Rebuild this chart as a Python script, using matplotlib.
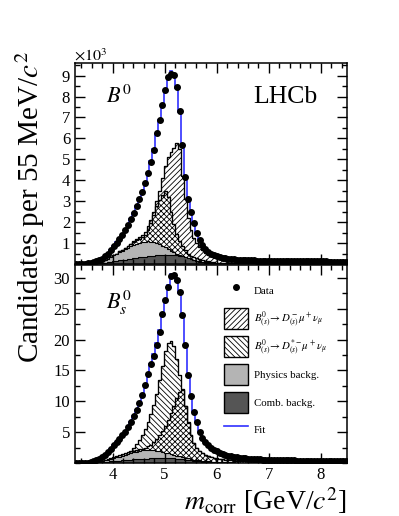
import numpy as np
import matplotlib
matplotlib.use("Agg")
from matplotlib import pyplot as plt
from matplotlib.patches import Patch
from matplotlib.lines import Line2D
from matplotlib.ticker import MultipleLocator

plt.rcParams['font.family'] = 'serif'
plt.rcParams['font.serif'] = ['Liberation Serif', 'DejaVu Serif']
plt.rcParams['mathtext.fontset'] = 'stix'
plt.rcParams['hatch.linewidth'] = 0.6

# 55 MeV bins, 3.28 - 8.505 GeV
lo, width, nbins = 3.28, 0.055, 95
edges = lo + width * np.arange(nbins + 1)
centers = edges[:-1] + width / 2

# ---- B0 panel (x10^3) ----
top_data = [0.0, 0.0, 0.01, 0.02, 0.03, 0.05, 0.08, 0.12, 0.18, 0.26,
            0.37, 0.5, 0.66, 0.85, 1.02, 1.2, 1.4, 1.62, 1.86, 2.15,
            2.45, 2.75, 3.1, 3.45, 3.85, 4.35, 4.85, 5.45, 6.25, 6.9,
            7.6, 8.3, 8.95, 9.08, 9.02, 8.45, 7.3, 5.7, 4.15, 3.1,
            2.5, 1.95, 1.5, 1.15, 0.9, 0.72, 0.58, 0.48, 0.41, 0.36,
            0.32, 0.29, 0.27, 0.25, 0.23, 0.22, 0.21, 0.2, 0.19, 0.18,
            0.18, 0.17, 0.17, 0.16, 0.16, 0.16, 0.15, 0.15, 0.15, 0.15,
            0.14, 0.14, 0.14, 0.14, 0.14, 0.13, 0.13, 0.13, 0.13, 0.13,
            0.13, 0.12, 0.12, 0.12, 0.12, 0.12, 0.12, 0.12, 0.11, 0.11,
            0.11, 0.11, 0.11, 0.11, 0.11]
top_fit = [0.0, 0.0, 0.0, 0.01, 0.02, 0.04, 0.07, 0.11, 0.17, 0.25,
           0.36, 0.49, 0.65, 0.84, 1.03, 1.21, 1.42, 1.64, 1.88, 2.15,
           2.45, 2.78, 3.12, 3.5, 3.92, 4.4, 4.92, 5.5, 6.2, 6.9,
           7.65, 8.35, 8.95, 9.2, 9.0, 8.4, 7.25, 5.65, 4.2, 3.15,
           2.45, 1.92, 1.5, 1.17, 0.92, 0.73, 0.59, 0.49, 0.41, 0.36,
           0.32, 0.29, 0.27, 0.25, 0.23, 0.22, 0.21, 0.2, 0.19, 0.18,
           0.18, 0.17, 0.17, 0.16, 0.16, 0.16, 0.15, 0.15, 0.15, 0.15,
           0.14, 0.14, 0.14, 0.14, 0.14, 0.13, 0.13, 0.13, 0.13, 0.13,
           0.13, 0.12, 0.12, 0.12, 0.12, 0.12, 0.12, 0.12, 0.11, 0.11,
           0.11, 0.11, 0.11, 0.11, 0.11]
# cumulative stack tops: D (outer), D* (inner), physics, combinatorial
top_d = [0.0, 0.0, 0.0, 0.0, 0.0, 0.01, 0.02, 0.04, 0.07, 0.12,
         0.18, 0.25, 0.33, 0.41, 0.5, 0.6, 0.68, 0.76, 0.85, 0.96,
         1.08, 1.18, 1.28, 1.4, 1.55, 1.8, 2.1, 2.5, 3.0, 3.5,
         4.1, 4.7, 5.1, 5.35, 5.55, 5.8, 5.5, 4.2, 3.1, 2.2,
         1.6, 1.25, 1.0, 0.8, 0.65, 0.53, 0.44, 0.37, 0.31, 0.27,
         0.24, 0.22, 0.2, 0.18, 0.17, 0.16, 0.15, 0.14, 0.14, 0.13,
         0.13, 0.12, 0.12, 0.12, 0.11, 0.11, 0.11, 0.11, 0.1, 0.1,
         0.1, 0.1, 0.1, 0.1, 0.1, 0.09, 0.09, 0.09, 0.09, 0.09,
         0.09, 0.09, 0.09, 0.09, 0.09, 0.09, 0.09, 0.09, 0.09, 0.09,
         0.09, 0.09, 0.09, 0.09, 0.09]
top_dst = [0.0, 0.0, 0.0, 0.0, 0.0, 0.01, 0.02, 0.04, 0.07, 0.12,
           0.18, 0.25, 0.33, 0.41, 0.5, 0.6, 0.68, 0.76, 0.85, 0.95,
           1.05, 1.13, 1.2, 1.28, 1.38, 1.6, 1.95, 2.35, 2.75, 3.05,
           3.3, 3.5, 3.2, 2.5, 1.9, 1.45, 1.1, 0.85, 0.65, 0.5,
           0.4, 0.33, 0.27, 0.22, 0.18, 0.15, 0.12, 0.1, 0.08, 0.07,
           0.06, 0.06, 0.05, 0.05, 0.05, 0.04, 0.04, 0.04, 0.04, 0.04,
           0.04, 0.03, 0.03, 0.03, 0.03, 0.03, 0.03, 0.03, 0.03, 0.03,
           0.03, 0.03, 0.03, 0.03, 0.03, 0.03, 0.03, 0.03, 0.03, 0.03,
           0.03, 0.03, 0.03, 0.03, 0.03, 0.03, 0.03, 0.03, 0.03, 0.03,
           0.03, 0.03, 0.03, 0.03, 0.03]
top_phys = [0.0, 0.0, 0.0, 0.0, 0.0, 0.01, 0.02, 0.04, 0.07, 0.12,
            0.18, 0.25, 0.33, 0.41, 0.49, 0.57, 0.64, 0.71, 0.78, 0.85,
            0.91, 0.96, 1.0, 1.04, 1.07, 1.08, 1.07, 1.05, 1.01, 0.95,
            0.88, 0.8, 0.72, 0.64, 0.57, 0.5, 0.44, 0.38, 0.32, 0.27,
            0.23, 0.19, 0.16, 0.13, 0.11, 0.09, 0.08, 0.07, 0.06, 0.05,
            0.05, 0.04, 0.04, 0.04, 0.03, 0.03, 0.03, 0.03, 0.03, 0.03,
            0.03, 0.02, 0.02, 0.02, 0.02, 0.02, 0.02, 0.02, 0.02, 0.02,
            0.02, 0.02, 0.02, 0.02, 0.02, 0.02, 0.02, 0.02, 0.02, 0.02,
            0.02, 0.02, 0.02, 0.02, 0.02, 0.02, 0.02, 0.02, 0.02, 0.02,
            0.02, 0.02, 0.02, 0.02, 0.02]
top_comb = [0.0, 0.0, 0.0, 0.0, 0.0, 0.0, 0.01, 0.02, 0.03, 0.05,
            0.07, 0.09, 0.11, 0.13, 0.15, 0.17, 0.19, 0.21, 0.23, 0.25,
            0.27, 0.29, 0.31, 0.33, 0.35, 0.37, 0.39, 0.4, 0.42, 0.43,
            0.44, 0.45, 0.45, 0.45, 0.44, 0.42, 0.4, 0.36, 0.32, 0.27,
            0.22, 0.18, 0.14, 0.11, 0.08, 0.06, 0.05, 0.04, 0.03, 0.03,
            0.02, 0.02, 0.02, 0.02, 0.02, 0.02, 0.02, 0.02, 0.02, 0.02,
            0.01, 0.01, 0.01, 0.01, 0.01, 0.01, 0.01, 0.01, 0.01, 0.01,
            0.01, 0.01, 0.01, 0.01, 0.01, 0.01, 0.01, 0.01, 0.01, 0.01,
            0.01, 0.01, 0.01, 0.01, 0.01, 0.01, 0.01, 0.01, 0.01, 0.01,
            0.01, 0.01, 0.01, 0.01, 0.01]

# ---- Bs0 panel (x10^3) ----
bot_data = [0.0, 0.0, 0.0, 0.05, 0.08, 0.15, 0.3, 0.5, 0.7, 0.95,
            1.3, 1.75, 2.3, 2.9, 3.4, 3.9, 4.5, 5.1, 5.8, 6.7,
            7.6, 8.6, 9.7, 11.0, 12.6, 14.4, 16.1, 17.4, 19.2, 21.3,
            24.1, 26.5, 28.6, 30.4, 30.5, 29.6, 27.8, 24.0, 19.2, 14.3,
            10.8, 8.3, 6.6, 5.1, 4.1, 3.4, 2.9, 2.5, 2.15, 1.9,
            1.7, 1.5, 1.35, 1.2, 1.1, 1.0, 0.93, 0.86, 0.8, 0.75,
            0.7, 0.67, 0.64, 0.61, 0.58, 0.56, 0.54, 0.52, 0.5, 0.49,
            0.47, 0.46, 0.45, 0.44, 0.43, 0.42, 0.41, 0.4, 0.39, 0.38,
            0.37, 0.36, 0.36, 0.35, 0.35, 0.34, 0.34, 0.33, 0.33, 0.32,
            0.32, 0.31, 0.31, 0.3, 0.3]
bot_fit = [0.0, 0.0, 0.0, 0.04, 0.07, 0.14, 0.28, 0.48, 0.7, 0.97,
           1.32, 1.78, 2.3, 2.85, 3.38, 3.92, 4.5, 5.12, 5.85, 6.7,
           7.6, 8.6, 9.75, 11.05, 12.6, 14.3, 16.1, 17.6, 19.4, 21.5,
           24.0, 26.6, 28.8, 30.6, 30.6, 29.5, 27.6, 24.0, 19.3, 14.4,
           10.9, 8.4, 6.6, 5.15, 4.1, 3.4, 2.9, 2.5, 2.15, 1.9,
           1.7, 1.5, 1.35, 1.2, 1.1, 1.0, 0.93, 0.86, 0.8, 0.75,
           0.7, 0.67, 0.64, 0.61, 0.58, 0.56, 0.54, 0.52, 0.5, 0.49,
           0.47, 0.46, 0.45, 0.44, 0.43, 0.42, 0.41, 0.4, 0.39, 0.38,
           0.37, 0.36, 0.36, 0.35, 0.35, 0.34, 0.34, 0.33, 0.33, 0.32,
           0.32, 0.31, 0.31, 0.3, 0.3]
bot_dst = [0.0, 0.0, 0.0, 0.0, 0.02, 0.05, 0.1, 0.16, 0.24, 0.33,
           0.5, 0.65, 0.8, 0.95, 1.1, 1.25, 1.4, 1.6, 1.8, 2.0,
           2.5, 3.1, 3.8, 4.6, 5.5, 6.6, 7.9, 9.4, 11.2, 13.4,
           15.8, 18.2, 19.5, 19.8, 19.0, 16.8, 14.2, 12.0, 9.3, 6.6,
           4.6, 3.3, 2.5, 1.95, 1.6, 1.35, 1.15, 1.0, 0.86, 0.76,
           0.67, 0.6, 0.54, 0.49, 0.45, 0.41, 0.38, 0.35, 0.33, 0.31,
           0.29, 0.28, 0.27, 0.26, 0.25, 0.24, 0.23, 0.22, 0.21, 0.2,
           0.2, 0.19, 0.19, 0.18, 0.18, 0.17, 0.17, 0.17, 0.16, 0.16,
           0.16, 0.15, 0.15, 0.15, 0.15, 0.14, 0.14, 0.14, 0.14, 0.14,
           0.13, 0.13, 0.13, 0.13, 0.13]
bot_d = [0.0, 0.0, 0.0, 0.0, 0.02, 0.05, 0.1, 0.16, 0.24, 0.33,
         0.43, 0.54, 0.66, 0.78, 0.9, 1.03, 1.16, 1.3, 1.44, 1.58,
         1.9, 2.05, 2.2, 2.35, 2.5, 2.7, 3.0, 3.4, 3.9, 4.5,
         5.2, 6.0, 7.0, 8.1, 9.3, 10.6, 11.5, 11.9, 9.2, 6.5,
         4.5, 3.2, 2.4, 1.9, 1.55, 1.3, 1.1, 0.95, 0.82, 0.72,
         0.64, 0.57, 0.51, 0.46, 0.42, 0.38, 0.35, 0.32, 0.3, 0.28,
         0.26, 0.25, 0.24, 0.23, 0.22, 0.21, 0.2, 0.19, 0.18, 0.18,
         0.17, 0.17, 0.16, 0.16, 0.16, 0.15, 0.15, 0.15, 0.15, 0.14,
         0.14, 0.14, 0.14, 0.13, 0.13, 0.13, 0.13, 0.13, 0.12, 0.12,
         0.12, 0.12, 0.12, 0.12, 0.12]
bot_phys = [0.0, 0.0, 0.0, 0.0, 0.02, 0.05, 0.1, 0.16, 0.24, 0.33,
            0.43, 0.54, 0.66, 0.78, 0.9, 1.03, 1.16, 1.3, 1.44, 1.58,
            1.72, 1.85, 1.96, 2.05, 2.1, 2.12, 2.1, 2.05, 1.98, 1.9,
            1.8, 1.7, 1.58, 1.46, 1.33, 1.2, 1.07, 0.95, 0.84, 0.74,
            0.65, 0.56, 0.48, 0.41, 0.35, 0.3, 0.26, 0.22, 0.19, 0.17,
            0.15, 0.13, 0.12, 0.11, 0.1, 0.09, 0.08, 0.08, 0.07, 0.07,
            0.06, 0.06, 0.06, 0.05, 0.05, 0.05, 0.05, 0.05, 0.05, 0.04,
            0.04, 0.04, 0.04, 0.04, 0.04, 0.04, 0.04, 0.04, 0.04, 0.04,
            0.04, 0.04, 0.04, 0.04, 0.04, 0.04, 0.04, 0.04, 0.04, 0.04,
            0.04, 0.04, 0.04, 0.04, 0.04]
bot_comb = [0.0, 0.0, 0.0, 0.0, 0.0, 0.02, 0.04, 0.07, 0.1, 0.14,
            0.18, 0.22, 0.26, 0.3, 0.34, 0.38, 0.42, 0.46, 0.5, 0.54,
            0.58, 0.62, 0.65, 0.68, 0.71, 0.73, 0.75, 0.76, 0.77, 0.78,
            0.78, 0.78, 0.77, 0.76, 0.74, 0.71, 0.67, 0.62, 0.56, 0.5,
            0.44, 0.38, 0.32, 0.27, 0.22, 0.18, 0.15, 0.12, 0.1, 0.08,
            0.07, 0.06, 0.05, 0.05, 0.04, 0.04, 0.03, 0.03, 0.03, 0.03,
            0.02, 0.02, 0.02, 0.02, 0.02, 0.02, 0.02, 0.02, 0.02, 0.02,
            0.02, 0.02, 0.02, 0.02, 0.02, 0.02, 0.02, 0.02, 0.02, 0.02,
            0.02, 0.02, 0.02, 0.02, 0.02, 0.02, 0.02, 0.02, 0.02, 0.02,
            0.02, 0.02, 0.02, 0.02, 0.02]

LIGHT = '#b4b4b4'
DARK = '#555555'
BLUE = '#3030ff'
HATCH_D = '//////'
HATCH_DST = '\\\\\\\\\\\\'
HATCH_X = 'xxxxxx'

fig = plt.figure(figsize=(3.99, 5.16), dpi=100)
ax1 = fig.add_axes([0.188, 0.4884, 0.682, 0.3895])
ax2 = fig.add_axes([0.188, 0.1027, 0.682, 0.3837], sharex=ax1)


def draw_panel(ax, data, fit, outer, inner, phys, comb, outer_hatch):
    ax.stairs(outer, edges, fill=True, facecolor='white', edgecolor='black',
              hatch=outer_hatch, linewidth=0.8)
    ax.stairs(outer, edges, fill=False, color='black', linewidth=0.9)
    ax.stairs(inner, edges, fill=True, facecolor='white', edgecolor='black',
              hatch=HATCH_X, linewidth=0.8)
    ax.stairs(inner, edges, fill=False, color='black', linewidth=0.9)
    ax.stairs(phys, edges, fill=True, facecolor=LIGHT, edgecolor='black', linewidth=0.8)
    ax.stairs(comb, edges, fill=True, facecolor=DARK, edgecolor='black', linewidth=0.8)
    ax.stairs(fit, edges, color=BLUE, linewidth=1.2)
    ax.plot(centers, data, 'o', color='black', markersize=4.0, zorder=5)


draw_panel(ax1, top_data, top_fit, top_d, top_dst, top_phys, top_comb, HATCH_D)
draw_panel(ax2, bot_data, bot_fit, bot_dst, bot_d, bot_phys, bot_comb, HATCH_DST)

ax1.set_xlim(3.28, 8.505)
ax1.set_ylim(0, 9.6)
ax2.set_ylim(0, 32.1)

for ax in (ax1, ax2):
    ax.tick_params(which='both', direction='in', top=True, right=True,
                   labelsize=12, width=1.0)
    ax.tick_params(which='major', length=7)
    ax.tick_params(which='minor', length=3.5)
    ax.xaxis.set_major_locator(MultipleLocator(1))
    ax.xaxis.set_minor_locator(MultipleLocator(0.2))
    for s in ax.spines.values():
        s.set_linewidth(1.1)

ax1.yaxis.set_major_locator(MultipleLocator(1))
ax1.yaxis.set_minor_locator(MultipleLocator(0.5))
ax2.yaxis.set_major_locator(MultipleLocator(5))
ax2.yaxis.set_minor_locator(MultipleLocator(2.5))
ax1.set_yticks([1, 2, 3, 4, 5, 6, 7, 8, 9])
ax2.set_yticks([5, 10, 15, 20, 25, 30])
ax1.tick_params(labelbottom=False)
ax2.set_xticks([4, 5, 6, 7, 8])
ax2.tick_params(axis='x', pad=3)

ax1.text(0.114, 0.80, r'$B^0$', transform=ax1.transAxes, fontsize=16)
ax2.text(0.114, 0.78, r'$B^0_s$', transform=ax2.transAxes, fontsize=16)
ax1.text(0.89, 0.80, 'LHCb', transform=ax1.transAxes, fontsize=18.5, ha='right')
fig.text(0.185, 0.882, r'$\times 10^3$', fontsize=11.5)

fig.text(0.075, 0.598, r'Candidates per 55 MeV/$c^2$', rotation=90,
         ha='center', va='center', fontsize=21)
fig.text(0.87, 0.012, r'$m_{\rm corr}$ [GeV/$c^2$]', ha='right',
         va='baseline', fontsize=20)

handles = [
    Line2D([], [], marker='o', color='black', linestyle='none', markersize=4.0),
    Patch(facecolor='white', edgecolor='black', hatch=HATCH_D, linewidth=1),
    Patch(facecolor='white', edgecolor='black', hatch=HATCH_DST, linewidth=1),
    Patch(facecolor=LIGHT, edgecolor='black', linewidth=1),
    Patch(facecolor=DARK, edgecolor='black', linewidth=1),
    Line2D([], [], color=BLUE, linewidth=1.2),
]
labels = [
    'Data',
    r'$B^0_{(s)}\!\rightarrow D^-_{(s)}\mu^+\nu_\mu$',
    r'$B^0_{(s)}\!\rightarrow D^{*-}_{(s)}\mu^+\nu_\mu$',
    'Physics backg.',
    'Comb. backg.',
    'Fit',
]
ax2.legend(handles, labels, loc='upper left', bbox_to_anchor=(0.53, 0.945),
           frameon=False, fontsize=7.8, handlelength=2.3, handleheight=2.6,
           labelspacing=0.62, handletextpad=0.5, borderaxespad=0)

plt.savefig("out.png", dpi=100)
